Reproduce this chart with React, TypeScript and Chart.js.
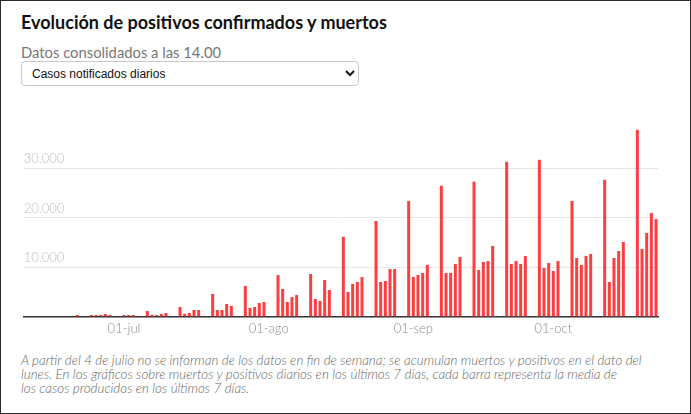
import React, { useEffect, useRef } from "react";
import { Chart, registerables } from "chart.js";

Chart.register(...registerables);

// ---- data ----
const startDate = "2020-06-10";
const dayCount = 136; // 10-jun .. 23-oct

const monthNames = ["ene", "feb", "mar", "abr", "may", "jun", "jul", "ago", "sep", "oct", "nov", "dic"];

// daily notified cases, one per calendar day starting 10-jun
const casesJun = [
  0, 0, 0, 0, 0, 0, 0, 0, 0, 0, 0, // 10-20 jun
  270, 0, 0, 270, 270, 270, 470, 270, 0, 0, // 21-30 jun
];
const casesEarlyJul = [270, 270, 270, 0, 0]; // 1-5 jul
// weeks Mon..Sun
const casesWeeks = [
  [1080, 340, 300, 470, 670, 0, 0], // 6 jul
  [1890, 560, 670, 1280, 1280, 0, 0], // 13 jul
  [4520, 1280, 1280, 2500, 2100, 0, 0], // 20 jul
  [6150, 1690, 1890, 2700, 2900, 0, 0], // 27 jul
  [8380, 5540, 2900, 3920, 4320, 0, 0], // 3 ago
  [8580, 3510, 3100, 7360, 5330, 0, 0], // 10 ago
  [16100, 4930, 6550, 6960, 7970, 0, 0], // 17 ago
  [19330, 6960, 7160, 9590, 9590, 0, 0], // 24 ago
  [23380, 7970, 8380, 8780, 10400, 0, 0], // 31 ago
  [26430, 8780, 8780, 10600, 12020, 0, 0], // 7 sep
  [27240, 9390, 11010, 11210, 14260, 0, 0], // 14 sep
  [31290, 10610, 11210, 10610, 12230, 0, 0], // 21 sep
  [31700, 9800, 10810, 9190, 11210, 0, 0], // 28 sep
  [23380, 11820, 10400, 12230, 12630, 0, 0], // 5 oct
  [27640, 6960, 11820, 13240, 15070, 0, 0], // 12 oct
];
const casesLast = [37780, 13650, 16890, 20950, 19730]; // 19-23 oct

const yTickValues = [10000, 20000, 30000];
const yTickLabels = ["10.000", "20.000", "30.000"];

const titleText = "Evolución de positivos confirmados y muertos";
const subtitleText = "Datos consolidados a las 14.00";
const selectText = "Casos notificados diarios";
const noteLines = [
  "A partir del 4 de julio no se informan de los datos en fin de semana; se acumulan muertos y positivos en el dato del",
  "lunes. En los gráficos sobre muertos y positivos diarios en los últimos 7 días, cada barra representa la media de",
  "los casos producidos en los últimos 7 días.",
];

function buildCategories(): string[] {
  const out: string[] = [];
  const base = new Date(startDate + "T00:00:00Z").getTime();
  for (let i = 0; i < dayCount; i++) {
    const d = new Date(base + i * 86400000);
    out.push(d.toISOString().slice(0, 10));
  }
  return out;
}

const categories = buildCategories();
const cases: number[] = [
  ...casesJun,
  ...casesEarlyJul,
  ...casesWeeks.flat(),
  ...casesLast,
];

function tickLabel(iso: string): string {
  const [, m, d] = iso.split("-");
  if (d !== "01") return "";
  return "01-" + monthNames[parseInt(m, 10) - 1];
}

function BarChart() {
  const ref = useRef<HTMLCanvasElement | null>(null);
  useEffect(() => {
    if (!ref.current) return;
    const chart = new Chart(ref.current, {
      type: "bar",
      data: {
        labels: categories,
        datasets: [
          {
            data: cases,
            backgroundColor: "#ff3d3d",
            borderWidth: 0,
            barPercentage: 0.64,
            categoryPercentage: 1,
          },
        ],
      },
      options: {
        animation: false,
        responsive: true,
        maintainAspectRatio: false,
        layout: { padding: 0 },
        plugins: { legend: { display: false }, tooltip: { enabled: false } },
        scales: {
          x: {
            grid: { display: false, drawTicks: false },
            border: { display: true, color: "#333", width: 1.5 },
            ticks: {
              autoSkip: false,
              maxRotation: 0,
              minRotation: 0,
              padding: 5,
              color: "#8a8a8a",
              font: { family: "Lato", size: 13, weight: "300" as any },
              callback: function (this: any, value: any) {
                return tickLabel(this.getLabelForValue(value));
              },
            },
          },
          y: {
            min: 0,
            max: 40000,
            afterBuildTicks: (s: any) => {
              s.ticks = yTickValues.map((v) => ({ value: v }));
            },
            grid: { color: "#e6e6e6", lineWidth: 1, drawTicks: false },
            border: { display: false },
            ticks: {
              mirror: true,
              padding: 0,
              labelOffset: -9,
              color: "#bdbdbd",
              font: { family: "Lato", size: 13, weight: "300" as any },
              callback: (v: any) => {
                const i = yTickValues.indexOf(Number(v));
                return i >= 0 ? yTickLabels[i] : "";
              },
            },
          },
        },
      },
    });
    return () => chart.destroy();
  }, []);
  return <canvas ref={ref} />;
}

export default function App() {
  return (
    <div
      style={{
        position: "fixed",
        left: 0,
        top: 0,
        width: 691,
        height: 414,
        boxSizing: "border-box",
        border: "1px solid #2a2a2a",
        background: "#fff",
        overflow: "hidden",
        fontFamily: "Lato, sans-serif",
      }}
    >
      <div
        style={{
          position: "absolute",
          left: 20,
          top: 12,
          fontSize: 18,
          lineHeight: "19px",
          fontWeight: 700,
          color: "#111",
          whiteSpace: "nowrap",
        }}
      >
        {titleText}
      </div>
      <div
        style={{
          position: "absolute",
          left: 20,
          top: 43,
          fontSize: 14.8,
          lineHeight: "16px",
          fontWeight: 400,
          color: "#777",
          whiteSpace: "nowrap",
        }}
      >
        {subtitleText}
      </div>
      <select
        defaultValue="a"
        style={{
          position: "absolute",
          left: 20,
          top: 60,
          width: 338,
          height: 25,
          boxSizing: "border-box",
          border: "1px solid #c8c8c8",
          borderRadius: 4,
          background: "#fff",
          fontFamily: "Arial, 'Liberation Sans', sans-serif",
          fontSize: 12,
          color: "#111",
          paddingLeft: 6,
        }}
      >
        <option value="a">{selectText}</option>
      </select>
      <div
        style={{
          position: "absolute",
          left: 20,
          top: 110,
          width: 640,
          height: 231,
        }}
      >
        <BarChart />
      </div>
      <div
        style={{
          position: "absolute",
          left: 20,
          top: 352,
          fontSize: 13.4,
          lineHeight: "14px",
          fontStyle: "italic",
          fontWeight: 300,
          color: "#666",
          whiteSpace: "nowrap",
        }}
      >
        {noteLines.map((l, i) => (
          <div key={i}>{l}</div>
        ))}
      </div>
    </div>
  );
}
